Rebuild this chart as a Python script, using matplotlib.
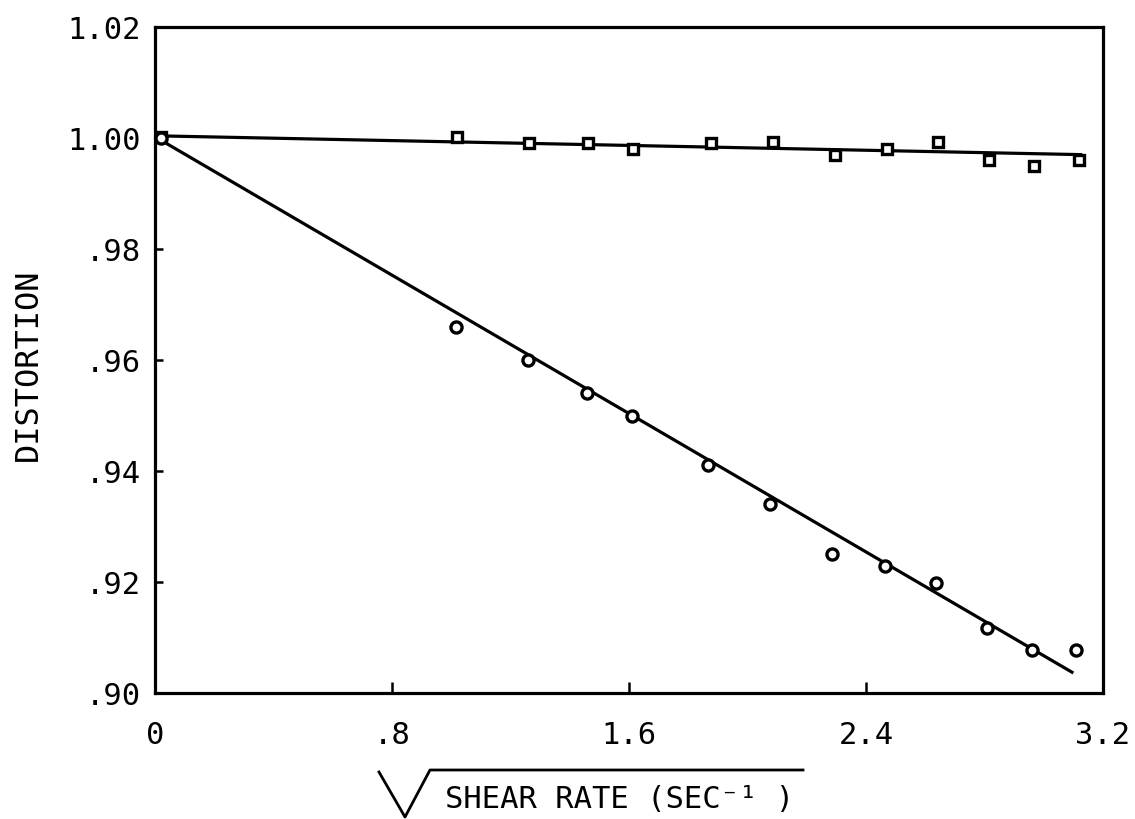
import matplotlib
matplotlib.use("Agg")
import matplotlib.pyplot as plt
from matplotlib.lines import Line2D

# ---- data ----
sq_x = [0.02, 1.018, 1.264, 1.463, 1.612, 1.877, 2.085, 2.295, 2.472, 2.644, 2.816, 2.968, 3.12]
sq_y = [1.0002, 1.0002, 0.9991, 0.9991, 0.9980, 0.9991, 0.9992, 0.9970, 0.9981, 0.9992, 0.9960, 0.9950, 0.9960]

ci_x = [0.02, 1.016, 1.258, 1.457, 1.609, 1.868, 2.076, 2.284, 2.464, 2.635, 2.807, 2.959, 3.109]
ci_y = [1.0000, 0.9660, 0.9600, 0.9540, 0.9500, 0.9410, 0.9340, 0.9250, 0.9228, 0.9198, 0.9118, 0.9078, 0.9078]

fit_sq_x = [0.0, 3.13]
fit_sq_y = [1.0004, 0.9970]
fit_ci_x = [0.02, 3.10]
fit_ci_y = [0.9996, 0.9036]

x_ticks = [0, 0.8, 1.6, 2.4, 3.2]
x_ticklabels = ["0", ".8", "1.6", "2.4", "3.2"]
y_ticks = [0.90, 0.92, 0.94, 0.96, 0.98, 1.00, 1.02]
y_ticklabels = [".90", ".92", ".94", ".96", ".98", "1.00", "1.02"]

FONT = ["DejaVu Sans Mono", "DejaVu Sans"]

fig = plt.figure(figsize=(11.35, 8.19), dpi=100)
ax = fig.add_axes([155/1135, 1-693/819, (1103-155)/1135, (693-27)/819])

ax.plot(fit_sq_x, fit_sq_y, color="black", lw=2.3, solid_capstyle="butt")
ax.plot(fit_ci_x, fit_ci_y, color="black", lw=2.3, solid_capstyle="butt")
ax.plot(sq_x, sq_y, ls="none", marker="s", ms=7.5, mfc="white", mec="black", mew=2.4)
ax.plot(ci_x, ci_y, ls="none", marker="o", ms=8, mfc="white", mec="black", mew=2.4)

ax.set_xlim(0, 3.2)
ax.set_ylim(0.90, 1.02)
ax.set_xticks(x_ticks)
ax.set_xticklabels(x_ticklabels, fontfamily=FONT, fontsize=22)
ax.set_yticks(y_ticks)
ax.set_yticklabels(y_ticklabels, fontfamily=FONT, fontsize=22)
ax.tick_params(axis="x", direction="in", length=8, width=1.8, pad=20, top=False)
ax.tick_params(axis="y", direction="in", length=6, width=1.8, pad=10, right=False)
for s in ax.spines.values():
    s.set_linewidth(2.3)

# y label
fig.text(28/1135, 1-365/819, "DISTORTION", fontfamily=FONT, fontsize=23,
         rotation=90, ha="center", va="center")

# x label with drawn radical sign
fig.text(620/1135, 1-800/819, "SHEAR RATE (SEC\u207b\u00b9 )", fontfamily=FONT,
         fontsize=22, ha="center", va="center")
rad_x = [379/1135, 405/1135, 430/1135, 803/1135]
rad_y = [1-772/819, 1-817/819, 1-770/819, 1-770/819]
fig.add_artist(Line2D(rad_x, rad_y, color="black", lw=2.0, transform=fig.transFigure))

fig.savefig("out.png", dpi=100, facecolor="white")
